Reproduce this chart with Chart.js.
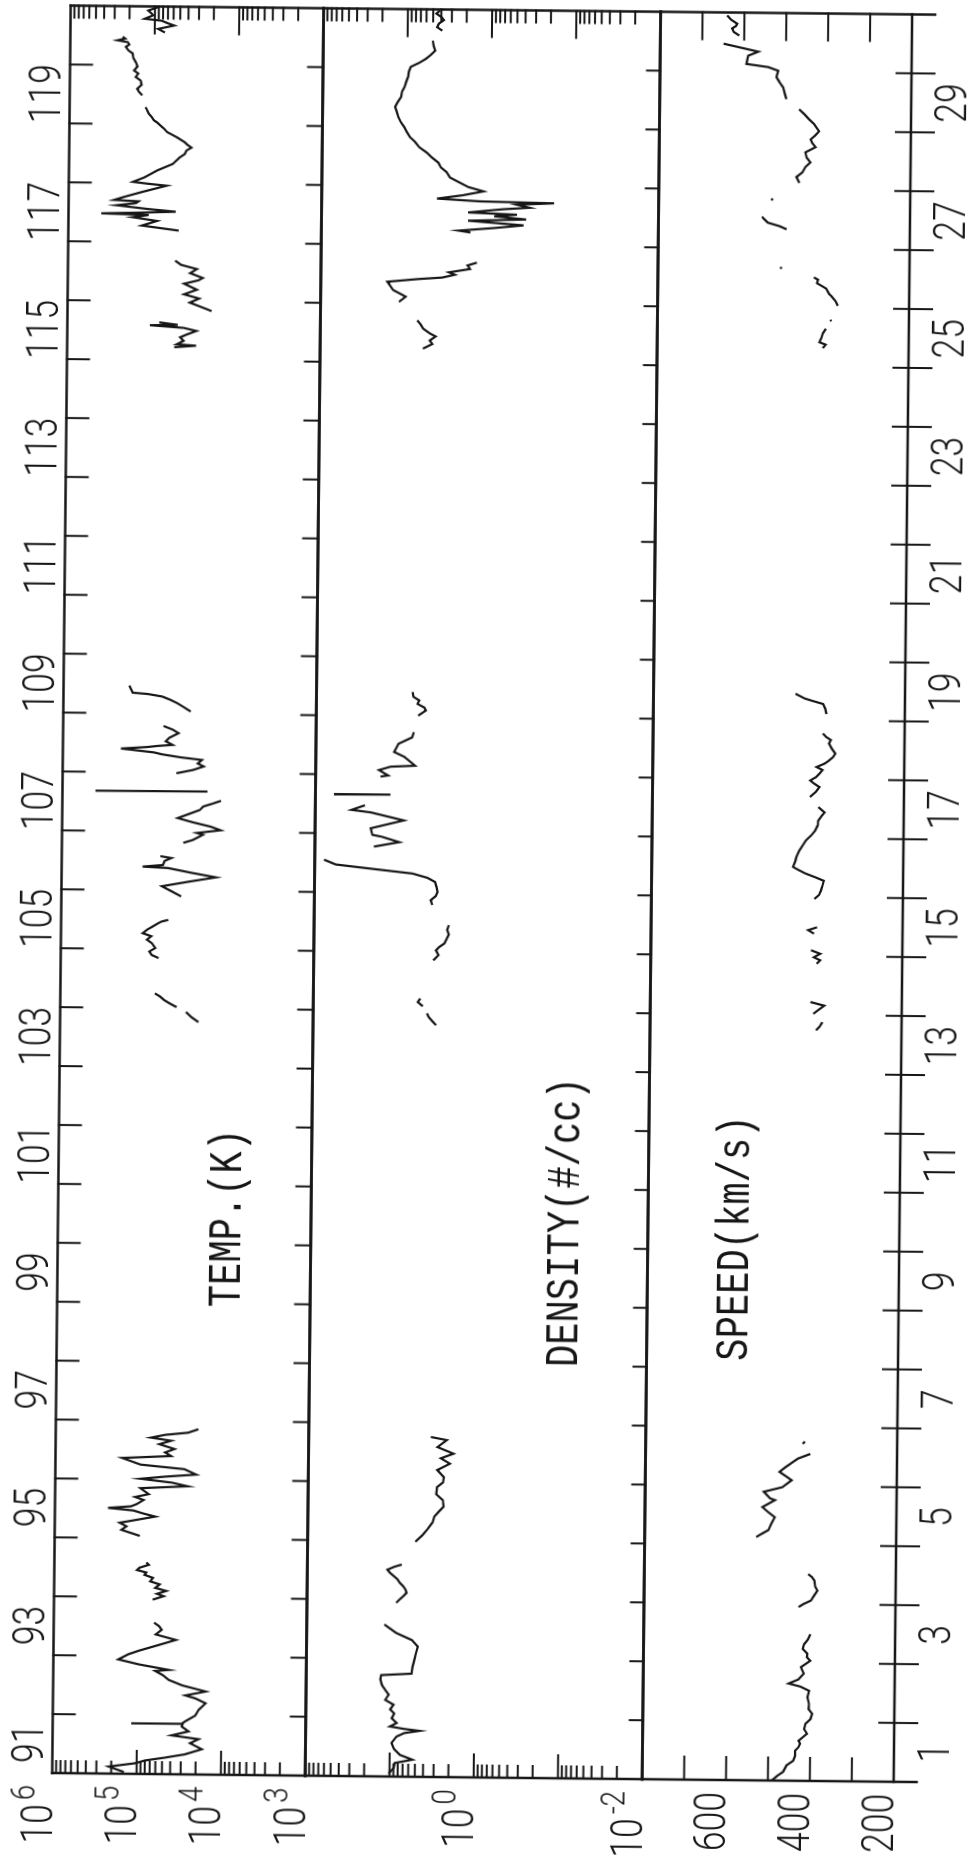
<!DOCTYPE html>
<html>
<head>
<meta charset="utf-8">
<script src="https://cdn.jsdelivr.net/npm/chart.js@4.4.1/dist/chart.umd.min.js"></script>
<style>
html,body{margin:0;padding:0;background:#fff;width:971px;height:1866px;overflow:hidden;}
#land{position:absolute;left:-447.5px;top:447.5px;width:1866px;height:971px;transform:rotate(-89.4deg);transform-origin:50% 50%;background:#fff;}
#land canvas{position:absolute;left:0;top:0;}
</style>
</head>
<body>
<div id="land">
<canvas id="cTemp" width="1866" height="971"></canvas>
<canvas id="cDens" width="1866" height="971"></canvas>
<canvas id="cSpeed" width="1866" height="971"></canvas>
</div>
<script>
// ---------------- DATA ----------------
const dayRange = [91, 121];
const labelDays = [91,93,95,97,99,101,103,105,107,109,111,113,115,117,119];
const topDayLabels = ['91','93','95','97','99','101','103','105','107','109','111','113','115','117','119'];
const bottomDayLabels = ['1','3','5','7','9','11','13','15','17','19','21','23','25','27','29'];
const tempLabelExps = [6,5,4,3];
const densLabelExps = [0,-2];
const speedLabelVals = [600,400,200];
const panelTitles = ['TEMP.(K)','DENSITY(#/cc)','SPEED(km/s)'];

// temperature: [day of year, log10 T(K)], null = data gap
const tempLog10 = [
[91.03,5.15],[91.12,5.33],[91.18,5.02],[91.23,4.90],[91.28,4.67],[91.34,4.43],[91.43,4.23],[91.48,4.30],[91.53,4.37],[91.60,4.27],[91.66,4.59],[91.73,4.39],[91.81,4.47],[91.85,4.46],[91.855,5.07],[91.86,4.47],[91.90,4.43],[92.00,4.31],[92.10,4.27],[92.21,4.19],[92.29,4.31],[92.34,4.43],[92.41,4.19],[92.51,4.47],[92.60,4.63],[92.68,4.70],[92.75,4.79],[92.77,4.63],[92.86,4.99],[92.94,5.23],[93.03,5.11],[93.09,4.99],[93.18,4.78],[93.28,4.55],[93.37,4.79],[93.45,4.72],[93.51,4.75],[93.57,4.81],
null,
[93.96,4.83],[94.02,4.70],[94.06,4.78],[94.11,4.67],[94.16,4.80],[94.22,4.75],[94.27,4.86],[94.33,4.83],[94.38,4.93],[94.42,4.91],[94.46,5.02],[94.50,4.99],[94.55,4.88],[94.59,4.91],
null,
[95.04,4.99],[95.09,5.10],[95.14,5.21],[95.20,5.15],[95.26,5.23],[95.32,5.00],[95.37,4.81],[95.42,4.95],[95.47,5.07],[95.51,5.37],[95.54,5.10],[95.58,5.03],[95.65,4.95],[95.70,5.05],[95.75,4.89],[95.85,4.99],[95.89,4.43],[95.95,4.62],[96.01,4.99],[96.05,4.70],[96.09,4.33],[96.18,4.47],[96.25,4.99],[96.36,5.21],[96.40,4.63],[96.46,4.70],[96.52,4.59],[96.60,4.77],[96.66,4.63],[96.71,4.87],[96.76,4.70],[96.80,4.43],[96.86,4.31],
null,
[103.77,4.36],[103.85,4.44],[103.94,4.51],
null,
[104.02,4.62],[104.08,4.70],[104.14,4.77],[104.20,4.82],[104.25,4.88],
null,
[104.85,4.84],[104.90,4.92],[104.96,4.95],[105.02,4.88],[105.10,4.92],[105.16,4.98],[105.22,4.93],[105.27,5.03],[105.33,4.98],[105.38,4.92],[105.44,4.85],[105.47,4.81],[105.50,4.73],
null,
[105.90,4.58],[105.99,4.70],[106.07,4.81],[106.15,4.50],[106.23,4.17],[106.30,4.45],[106.38,4.74],[106.40,5.04],[106.43,4.80],[106.50,4.78],[106.55,4.70],[106.58,4.83],
null,
[106.81,4.56],[106.86,4.45],[106.95,4.33],[106.98,4.40],[107.03,4.12],[107.09,4.24],[107.16,4.45],[107.23,4.63],[107.30,4.50],[107.37,4.37],[107.43,4.33],[107.48,4.22],[107.53,4.12],
null,
[107.68,5.61],[107.685,4.28],
null,
[107.99,4.65],[108.05,4.45],[108.11,4.33],[108.16,4.40],[108.22,4.35],[108.26,4.60],[108.31,4.83],[108.34,4.92],[108.40,5.31],[108.43,5.00],[108.45,4.88],[108.47,4.70],[108.53,4.78],[108.59,4.74],[108.67,4.63],[108.73,4.70],[108.79,4.81],
null,
[109.04,4.49],[109.12,4.58],[109.18,4.65],[109.24,4.74],[109.29,4.83],[109.33,5.00],[109.35,5.18],[109.41,5.20],[109.47,5.22],
null,
[115.22,4.73],[115.25,4.47],[115.27,4.70],[115.33,4.62],[115.39,4.66],[115.44,4.58],[115.50,4.47],[115.55,4.62],[115.59,5.02],[115.60,4.69],[115.64,4.91],
null,
[115.84,4.29],[115.90,4.40],[115.98,4.55],[116.05,4.44],[116.12,4.62],[116.20,4.47],[116.30,4.62],[116.36,4.45],[116.40,4.40],[116.48,4.55],[116.55,4.47],[116.62,4.66],[116.69,4.73],
null,
[117.20,4.69],[117.28,5.13],[117.36,4.95],[117.42,5.24],[117.46,5.05],[117.48,5.61],[117.50,5.13],[117.52,4.73],[117.56,5.05],[117.62,5.43],[117.66,5.20],[117.69,5.17],[117.71,5.46],[117.76,5.35],[117.85,5.13],[117.96,4.84],[117.99,5.06],[118.02,5.24],[118.10,5.10],[118.22,4.95],[118.33,4.77],[118.44,4.69],[118.50,4.63],[118.56,4.61],[118.61,4.55],[118.66,4.60],[118.70,4.63],[118.78,4.72],[118.87,4.84],[118.93,4.88],[118.98,4.92],[119.03,4.96],[119.07,5.00],[119.13,5.03],[119.18,5.06],[119.24,5.08],[119.29,5.10],
null,
[119.49,5.14],[119.55,5.18],[119.60,5.20],[119.67,5.15],[119.74,5.16],[119.80,5.22],[119.86,5.19],[119.91,5.24],[119.98,5.20],[120.05,5.22],[120.12,5.25],[120.20,5.26],[120.25,5.31],[120.31,5.34],[120.35,5.30],[120.39,5.32],[120.42,5.44],[120.45,5.35],[120.48,5.38],
null,
[120.56,4.88],[120.62,4.96],[120.68,4.77],[120.72,4.85],[120.76,4.92],[120.79,5.12],[120.85,5.02],[120.88,5.04],[120.93,5.08],[120.99,4.96]
];

// density: [day of year, log10 n(#/cc)]
const densLog10 = [
[91.05,1.01],[91.15,0.95],[91.23,0.94],[91.29,0.73],[91.37,0.88],[91.47,0.95],[91.57,0.98],[91.68,0.92],[91.74,0.83],[91.78,0.65],[91.81,0.83],[91.85,1.00],[91.91,0.92],[91.99,0.98],[92.07,0.95],[92.14,1.00],[92.22,0.96],[92.30,1.06],[92.39,1.02],[92.47,1.06],[92.55,1.10],[92.65,1.12],[92.72,1.11],[92.75,0.75],[92.86,0.74],[92.98,0.72],[93.10,0.70],[93.21,0.68],[93.32,0.75],[93.44,0.94],[93.58,1.08],
null,
[93.95,0.94],[94.01,0.90],[94.06,0.86],[94.12,0.82],[94.17,0.83],[94.23,0.86],[94.29,0.90],[94.35,0.93],[94.40,0.97],[94.46,1.02],[94.51,1.05],[94.56,0.97],[94.60,0.88],
null,
[94.99,0.72],[95.10,0.64],[95.22,0.57],[95.32,0.52],[95.42,0.50],[95.50,0.45],[95.59,0.39],[95.70,0.40],[95.80,0.48],[95.92,0.47],[96.00,0.40],[96.09,0.39],[96.21,0.47],[96.32,0.32],[96.41,0.43],[96.49,0.28],[96.60,0.47],[96.72,0.36],[96.77,0.55],
null,
[103.76,0.54],[103.82,0.58],[103.90,0.63],[103.96,0.65],
null,
[104.08,0.70],[104.15,0.76],[104.21,0.73],
null,
[104.86,0.58],[104.95,0.52],[105.03,0.55],[105.09,0.51],[105.15,0.45],[105.21,0.43],[105.30,0.40],[105.38,0.42],[105.46,0.40],
null,
[105.80,0.60],[105.88,0.62],[105.95,0.56],[106.02,0.54],[106.10,0.55],[106.19,0.57],[106.26,0.66],[106.33,0.84],[106.40,1.30],[106.47,1.75],[106.55,1.89],
null,
[106.78,1.30],[106.86,1.00],[106.95,1.21],[106.98,1.32],[107.09,1.34],[107.23,0.95],[107.36,1.34],[107.40,1.57],[107.48,1.41],
null,
[107.66,1.78],[107.665,1.11],
null,
[107.97,1.23],[107.99,1.14],[108.08,1.25],[108.14,1.11],[108.16,0.82],[108.31,0.95],[108.39,1.07],[108.53,1.02],[108.64,0.86],[108.73,0.84],
null,
[109.01,0.79],[109.06,0.74],[109.10,0.70],[109.15,0.72],[109.21,0.80],[109.27,0.78],[109.33,0.85],[109.41,0.86],
null,
[115.24,0.78],[115.32,0.67],[115.38,0.70],[115.45,0.63],[115.50,0.70],[115.58,0.78],[115.65,0.81],[115.72,0.85],
null,
[116.03,1.07],[116.12,0.99],[116.23,1.14],[116.37,1.21],[116.42,0.85],[116.45,0.56],[116.50,0.41],[116.54,0.48],[116.60,0.23],[116.66,0.26],[116.71,0.15],
null,
[117.22,0.23],[117.25,0.37],[117.30,-0.05],[117.35,-0.40],[117.42,0.26],[117.45,-0.43],[117.50,-0.05],[117.53,-0.32],[117.56,0.26],[117.62,-0.15],[117.65,-0.47],[117.70,-0.32],[117.73,-0.76],[117.75,0.12],[117.79,0.63],[117.85,0.33],[117.92,0.08],[117.99,0.26],[118.07,0.37],[118.15,0.48],[118.24,0.52],[118.32,0.59],[118.40,0.62],[118.49,0.70],[118.57,0.76],[118.66,0.85],[118.75,0.90],[118.83,0.96],[118.92,1.00],[119.00,1.03],[119.08,1.07],[119.17,1.10],[119.26,1.12],[119.34,1.14],[119.42,1.11],[119.51,1.07],[119.60,1.06],[119.68,1.03],[119.77,1.01],[119.85,0.99],[119.94,0.98],[120.02,0.96],[120.09,0.86],[120.16,0.78],[120.23,0.72],[120.30,0.67],[120.38,0.69],[120.47,0.70],
null,
[120.64,0.59],[120.70,0.65],[120.76,0.63],[120.82,0.57],[120.87,0.60],[120.93,0.66],[120.98,0.62]
];

// speed: [day of year, km/s]
const speedKms = [
[91.00,491],[91.08,478],[91.15,464],[91.26,456],[91.34,440],[91.42,436],[91.51,436],[91.57,428],[91.63,424],[91.68,428],[91.74,418],[91.80,408],[91.88,415],[91.97,412],[92.05,400],[92.14,396],[92.22,405],[92.31,404],[92.42,408],[92.53,404],[92.60,425],[92.65,453],[92.72,430],[92.82,417],[92.93,424],[93.04,402],[93.10,410],[93.16,409],[93.24,420],[93.32,417],[93.40,408],[93.49,402],
null,
[93.95,431],[94.00,420],[94.06,402],[94.14,395],[94.23,387],[94.30,392],[94.40,394],[94.46,400],[94.51,409],
null,
[95.13,534],[95.19,520],[95.25,505],[95.36,498],[95.47,490],[95.55,505],[95.64,520],[95.70,505],[95.76,490],[95.79,502],[95.90,517],[95.98,473],[96.10,451],[96.17,465],[96.24,480],[96.32,466],[96.40,450],[96.47,436],[96.55,407],
null,
[96.72,425],[96.76,420],
null,
[103.74,404],[103.80,396],[103.88,389],
null,
[104.02,411],[104.08,400],[104.16,385],[104.22,418],
null,
[104.87,404],[104.93,396],[104.98,411],[105.04,396],[105.10,418],
null,
[105.38,411],[105.44,425],[105.49,404],
null,
[105.97,411],[106.04,400],[106.11,396],[106.20,392],[106.28,389],[106.34,410],[106.40,433],[106.46,450],[106.51,463],[106.60,458],[106.68,455],[106.79,448],[106.88,440],[106.96,433],[107.05,420],[107.13,411],[107.22,405],[107.30,404],[107.38,396],[107.44,389],[107.53,404],
null,
[107.70,424],[107.79,410],[107.87,402],[107.93,415],[107.98,424],[108.04,410],[108.10,402],[108.16,395],[108.21,409],[108.27,390],[108.32,380],[108.38,370],[108.44,365],[108.52,373],[108.61,380],[108.67,376],[108.72,387],[108.78,395],
null,
[109.11,387],[109.20,390],[109.28,395],[109.33,420],[109.37,439],[109.45,461],
null,
[115.32,405],[115.38,398],[115.42,413],[115.50,408],[115.57,405],[115.65,398],
null,
[115.78,385],[115.80,388],
null,
[116.04,370],[116.10,374],[116.13,377],[116.20,385],[116.24,391],[116.33,398],[116.38,410],[116.42,420],[116.48,418],[116.52,428],
null,
[116.66,508],[116.69,505],
null,
[117.33,494],[117.38,510],[117.44,539],[117.50,548],[117.54,553],
null,
[117.82,531],[117.85,528],
null,
[118.12,465],[118.22,472],[118.30,458],[118.39,451],[118.47,439],[118.55,448],[118.64,451],[118.73,427],[118.80,435],[118.86,439],[118.93,428],[119.00,419],[119.06,425],[119.12,431],[119.20,443],[119.29,455],[119.37,467],
null,
[119.54,498],[119.64,502],[119.74,506],[119.83,515],[119.91,522],[119.97,520],[120.02,518],[120.08,542],[120.13,594],[120.20,592],[120.27,590],[120.34,566],[120.39,598],[120.47,649],
null,
[120.61,612],[120.67,625],[120.73,629],[120.77,620],[120.81,617],[120.88,632],[120.95,641]
];

// ---------------- LAYOUT / STYLE ----------------
const INK = '#161616';
const AREA_LEFT = 89, AREA_RIGHT_PAD = 9.5, CANVAS_H = 971;
const PANELS = {temp:[60.5,313.5], dens:[313.5,650.5], speed:[650.5,902]};
const NUM_FONT = '300 43.6px Roboto, "DejaVu Sans", sans-serif';
const SUP_FONT = '300 34px Roboto, "DejaVu Sans", sans-serif';
const TITLE_FONT = '46px "Liberation Mono", "DejaVu Sans Mono", monospace';
const NUM_SX = 0.816, TITLE_SX = 0.808;
const TITLE_POS = {temp:{day:100.45, base:243}, dens:{day:100.44, base:581}, speed:{day:100.2, base:751}};

function seg(ctx,x1,y1,x2,y2){ctx.beginPath();ctx.moveTo(x1,y1);ctx.lineTo(x2,y2);ctx.stroke();}
function txt(ctx,s,x,y,font,sx,align){
  ctx.save(); ctx.font=font; ctx.translate(x,y); ctx.scale(sx,1);
  ctx.textAlign=align; ctx.textBaseline='alphabetic'; ctx.fillText(s,0,0); ctx.restore();
}
function powLabel(ctx,exp,xRight,yBase){
  const sup=String(exp);
  ctx.save(); ctx.font=SUP_FONT; const sw=ctx.measureText(sup).width*NUM_SX; ctx.restore();
  txt(ctx,sup,xRight,yBase-18,SUP_FONT,NUM_SX,'right');
  txt(ctx,'10',xRight-sw-4,yBase,NUM_FONT,NUM_SX,'right');
}

const panelPlugin = {
  id:'panel',
  afterDatasetsDraw(chart,args,o){
    const ctx=chart.ctx, a=chart.chartArea, xs=chart.scales.x, ys=chart.scales.y, k=o.kind;
    ctx.save();
    ctx.strokeStyle=INK; ctx.fillStyle=INK; ctx.lineCap='square';
    ctx.lineWidth=2.5;
    const ext = k==='speed' ? 23 : 0;
    seg(ctx,a.left,a.top,a.right,a.top);
    seg(ctx,a.left,a.bottom,a.right,a.bottom);
    seg(ctx,a.left,a.top,a.left,a.bottom+ext);
    seg(ctx,a.right,a.top,a.right,a.bottom+ext);
    ctx.lineWidth=2;
    for(let d=dayRange[0]+1; d<dayRange[1]; d++){
      const x=xs.getPixelForValue(d);
      if(k==='temp'){ seg(ctx,x,a.top,x,a.top+22); seg(ctx,x,a.bottom-15,x,a.bottom); }
      else if(k==='dens'){ seg(ctx,x,a.bottom-13,x,a.bottom); }
      else { seg(ctx,x,a.bottom-15,x,a.bottom+23); }
    }
    const ticks=[];
    if(k==='speed'){ for(let v=300; v<=700; v+=100) ticks.push([v,true]); }
    else {
      const e0 = k==='temp'?3:-2, e1 = k==='temp'?6:2;
      for(let e=e0;e<e1;e++) for(let m=1;m<10;m++){ if(m===1&&e===e0) continue; ticks.push([m*Math.pow(10,e), m===1]); }
    }
    for(const [v,major] of ticks){
      const y=ys.getPixelForValue(v);
      const lenL = major?23:12, lenR = major?27:12;
      seg(ctx,a.left,y,a.left+lenL,y); seg(ctx,a.right-lenR,y,a.right,y);
    }
    // labels
    if(k==='temp'){
      labelDays.forEach((d,i)=>txt(ctx,topDayLabels[i],xs.getPixelForValue(d+0.5),a.top-9.5,NUM_FONT,NUM_SX,'center'));
      tempLabelExps.forEach(e=>powLabel(ctx,e,a.left-12,ys.getPixelForValue(Math.pow(10,e))));
    } else if(k==='dens'){
      densLabelExps.forEach(e=>powLabel(ctx,e,a.left-12,ys.getPixelForValue(Math.pow(10,e))));
    } else {
      labelDays.forEach((d,i)=>txt(ctx,bottomDayLabels[i],xs.getPixelForValue(d+0.5),a.bottom+54.5,NUM_FONT,NUM_SX,'center'));
      speedLabelVals.forEach(v=>txt(ctx,String(v),a.left-12,ys.getPixelForValue(v),NUM_FONT,NUM_SX,'right'));
    }
    const tp=TITLE_POS[k];
    txt(ctx,o.title,xs.getPixelForValue(tp.day),tp.base,TITLE_FONT,TITLE_SX,'center');
    ctx.restore();
  }
};

function toPoints(list, fn){
  const out=[]; let lastX=dayRange[0];
  for(const p of list){
    if(p===null){ out.push({x:lastX+0.001,y:null}); }
    else { lastX=p[0]; out.push({x:p[0], y:fn(p[1])}); }
  }
  return out;
}

function makeChart(id, kind, title, data, yScale){
  const [vt,vb]=PANELS[kind];
  return new Chart(document.getElementById(id),{
    type:'line',
    data:{datasets:[{data, borderColor:INK, borderWidth:2.2, pointRadius:0, fill:false, tension:0, spanGaps:false}]},
    options:{
      responsive:false, devicePixelRatio:1, animation:false, events:[],
      layout:{padding:{left:AREA_LEFT, right:AREA_RIGHT_PAD, top:vt, bottom:CANVAS_H-vb}},
      scales:{
        x:{type:'linear', min:dayRange[0], max:dayRange[1], display:false},
        y:Object.assign({display:false}, yScale)
      },
      plugins:{legend:{display:false}, tooltip:{enabled:false}, panel:{kind, title}}
    },
    plugins:[panelPlugin]
  });
}

function start(){
  makeChart('cTemp','temp',panelTitles[0], toPoints(tempLog10, v=>Math.pow(10,v)), {type:'logarithmic', min:1e3, max:1e6});
  makeChart('cDens','dens',panelTitles[1], toPoints(densLog10, v=>Math.pow(10,v)), {type:'logarithmic', min:1e-2, max:1e2});
  makeChart('cSpeed','speed',panelTitles[2], toPoints(speedKms, v=>v), {type:'linear', min:200, max:800});
}
if(document.fonts && document.fonts.load){
  Promise.all([document.fonts.load(NUM_FONT), document.fonts.load(SUP_FONT), document.fonts.load(TITLE_FONT)]).then(start, start);
} else start();
</script>
</body>
</html>
